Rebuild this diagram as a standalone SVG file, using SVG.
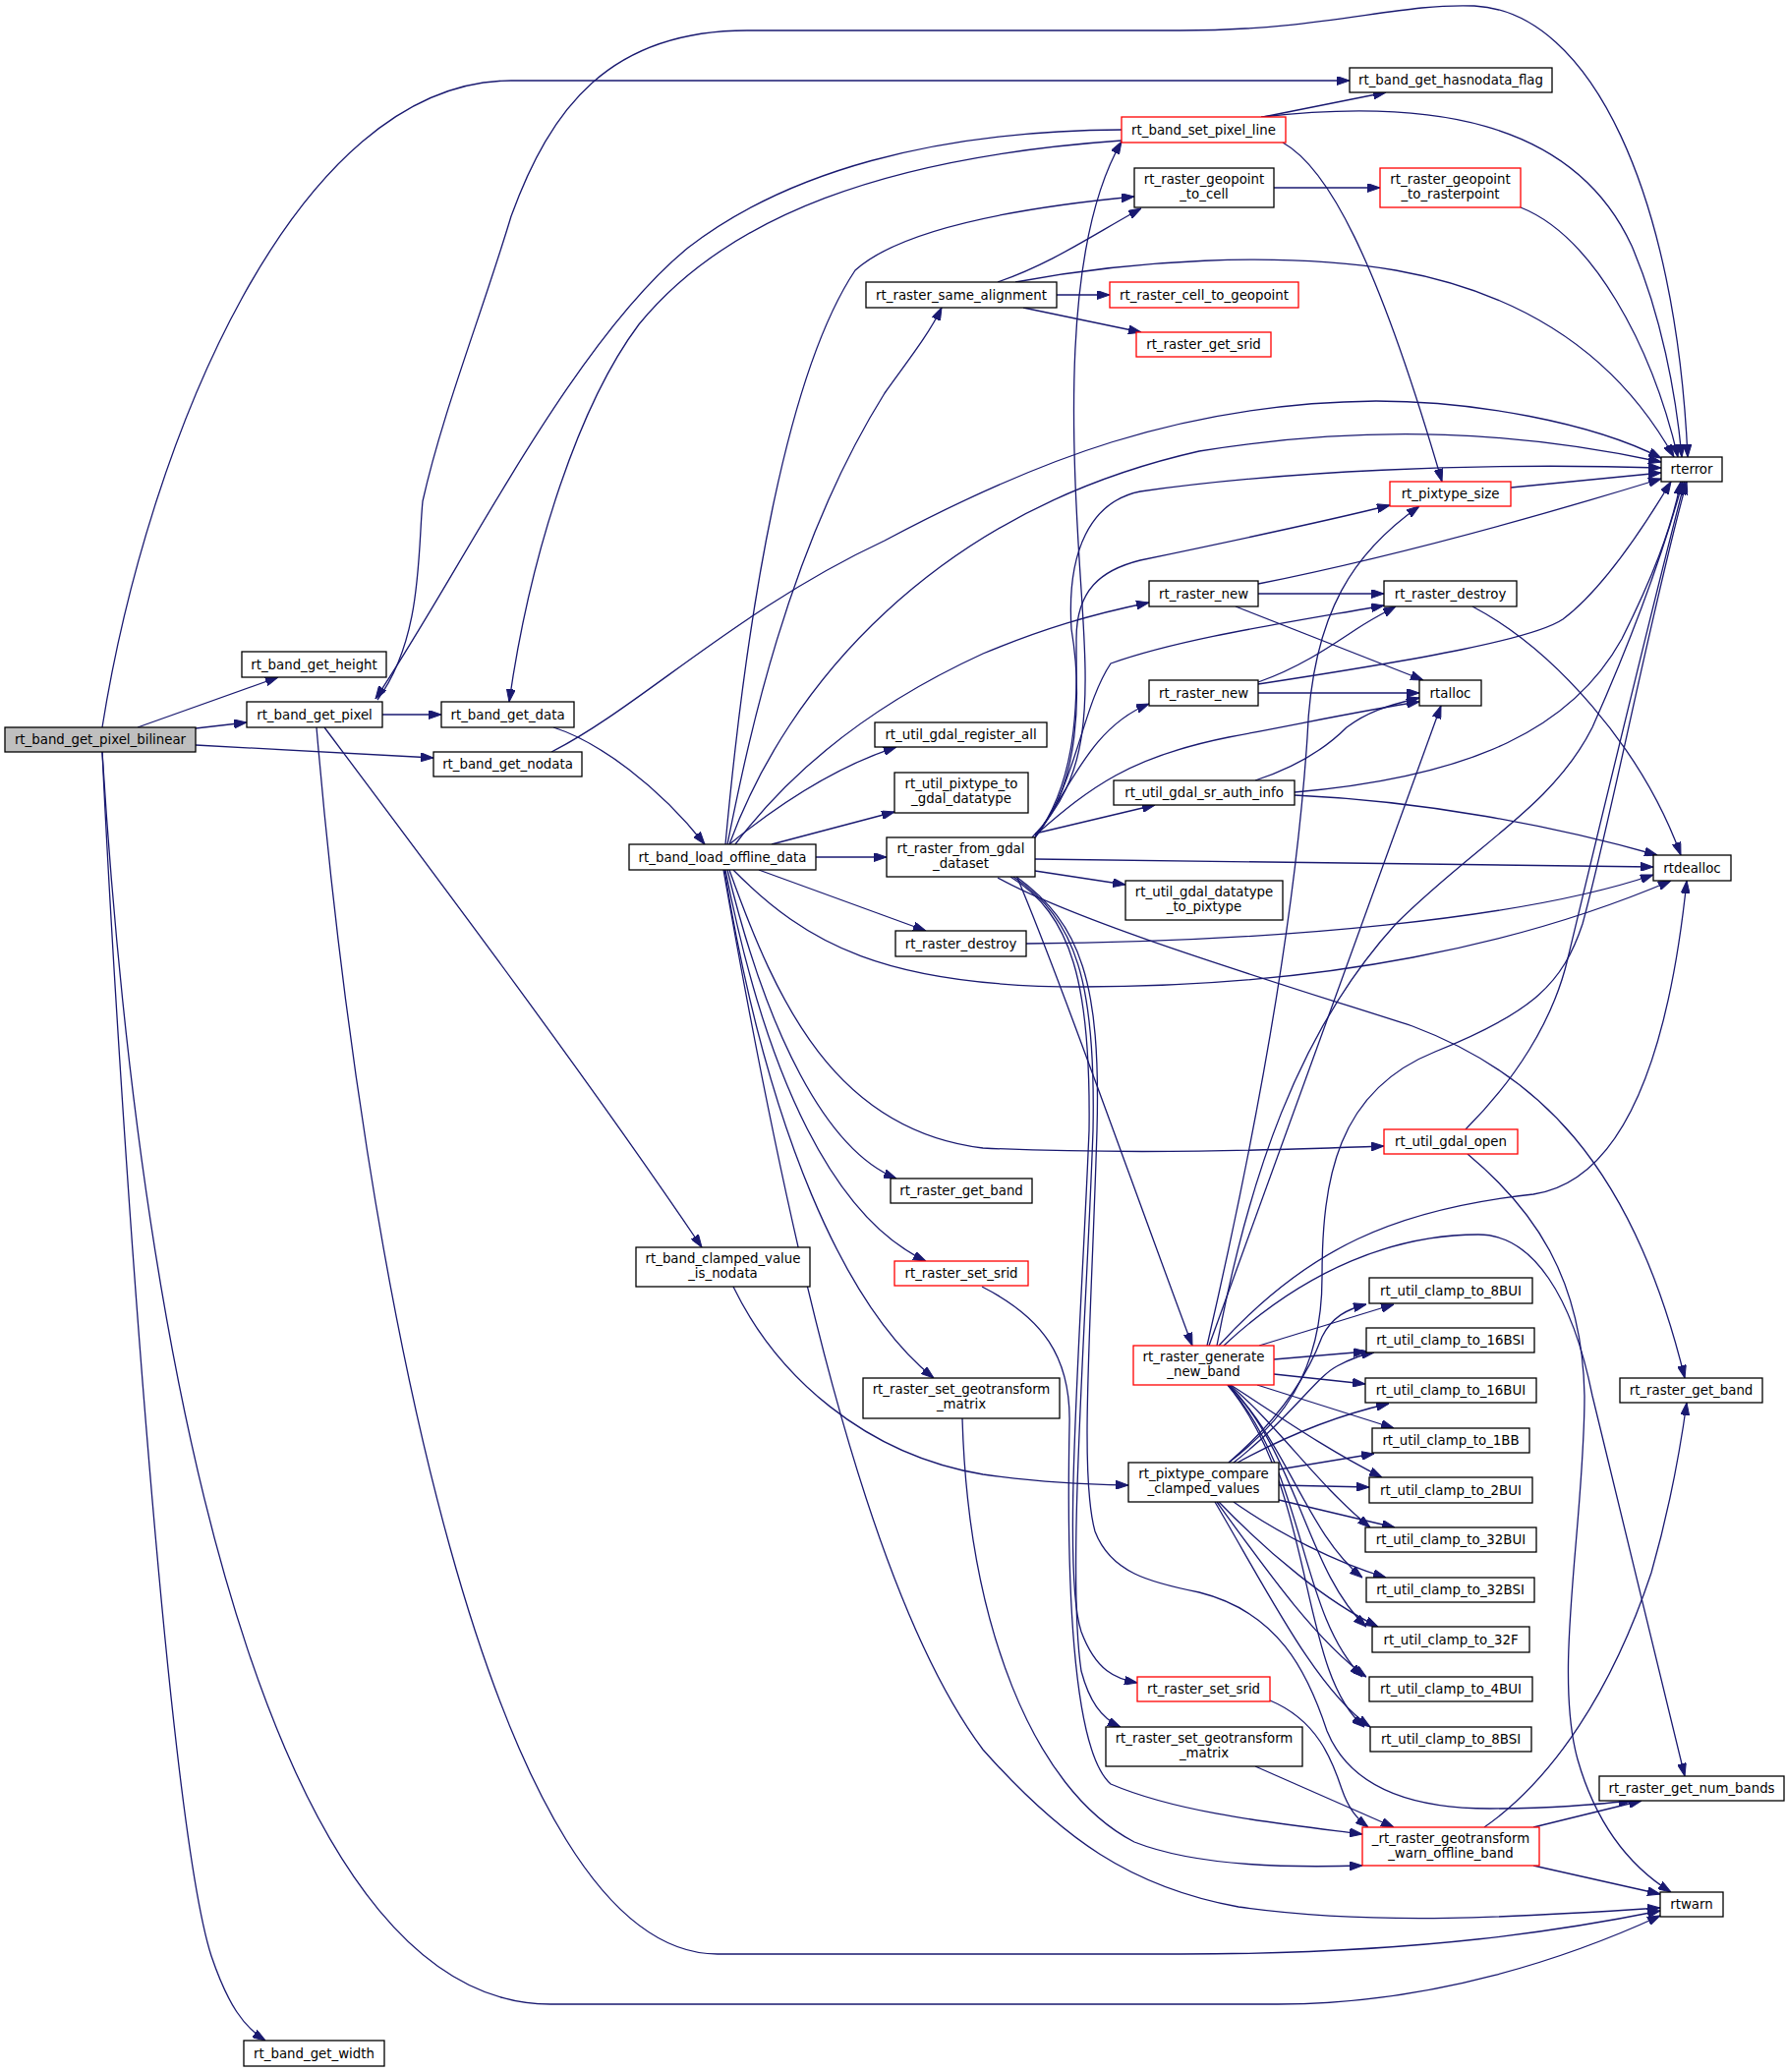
<svg xmlns="http://www.w3.org/2000/svg" width="1817" height="2108" viewBox="0 0 1817 2108">
<style>
.n rect{fill:#fff;stroke:#000;stroke-width:1.3}
.n.r rect{stroke:#ff0000}
.n.g rect{fill:#bfbfbf}
.e path{fill:none;stroke:#191970;stroke-width:1.3;marker-end:url(#a)}
text{font-family:"DejaVu Sans","Liberation Sans",sans-serif;font-size:13.33px;text-anchor:middle;fill:#000}
</style>
<defs>
<marker id="a" viewBox="0 0 13 9" refX="13" refY="4.5" markerWidth="13" markerHeight="9" markerUnits="userSpaceOnUse" orient="auto">
<path d="M0,0 L13,4.5 L0,9 Z" fill="#191970" stroke="#191970" stroke-width="1"/>
</marker>
</defs>
<rect x="0" y="0" width="1817" height="2108" fill="#fff"/>
<g id="edges" class="e">
<path d="M104,740 C150,450 300,82 520,82 L1373,82"/>
<path d="M140,740 L283,689"/>
<path d="M199,741 L251,735"/>
<path d="M199,758 L441,771"/>
<path d="M104,765 C120,1100 170,1850 215,1990 C232,2040 248,2062 270,2076"/>
<path d="M104,765 C150,1500 300,2039 560,2039 L1300,2039 C1460,2039 1600,1990 1689,1949"/>
<path d="M389,727 L449,727"/>
<path d="M330,740 C450,900 600,1100 714,1269"/>
<path d="M322,740 C370,1300 500,1988 730,1988 L1200,1988 C1450,1988 1600,1962 1689,1944"/>
<path d="M384,712 C430,650 425,560 430,510 C450,420 490,320 520,220 C560,110 620,31 760,31 L1200,31 C1350,31 1420,3 1500,6 C1620,12 1705,200 1717,465"/>
<path d="M1141,132 C950,133 800,175 700,252 C580,350 470,580 382,711"/>
<path d="M1141,143 C900,160 740,220 650,330 C590,410 540,560 518,714"/>
<path d="M1285,119 L1410,94"/>
<path d="M1283,119 C1450,100 1600,120 1660,250 C1690,320 1705,400 1711,465"/>
<path d="M1305,145 C1350,170 1400,260 1467,490"/>
<path d="M563,740 C610,755 670,800 717,859"/>
<path d="M561,765 C650,720 750,620 900,550 C1050,470 1200,410 1400,408 C1500,408 1620,430 1690,466"/>
<path d="M740,859 C760,760 800,560 900,400 C925,365 945,340 958,313"/>
<path d="M738,859 C760,620 800,380 870,275 C920,230 1050,210 1154,200"/>
<path d="M742,859 C800,700 950,520 1220,459 C1400,430 1550,440 1690,470"/>
<path d="M748,859 C800,790 880,720 1000,665 C1060,640 1110,625 1169,613"/>
<path d="M742,859 C790,820 850,780 912,760"/>
<path d="M785,859 L910,826"/>
<path d="M830,872 L902,872"/>
<path d="M772,885 L942,947"/>
<path d="M746,885 C820,960 900,1004 1100,1004 C1350,1004 1550,960 1700,896"/>
<path d="M742,885 C790,1020 850,1150 1000,1168 C1150,1175 1300,1170 1408,1166"/>
<path d="M740,885 C780,1050 840,1170 912,1199"/>
<path d="M738,885 C780,1100 850,1240 942,1283"/>
<path d="M737,885 C780,1150 860,1330 950,1402"/>
<path d="M736,885 C800,1250 880,1620 1000,1780 C1080,1870 1150,1920 1260,1940 C1400,1960 1550,1950 1689,1941"/>
<path d="M1015,287 C1070,268 1110,240 1161,212"/>
<path d="M1075,300 L1129,300"/>
<path d="M1041,313 L1161,338"/>
<path d="M1033,287 C1150,265 1300,255 1420,275 C1560,300 1650,370 1703,465"/>
<path d="M1296,191 L1404,191"/>
<path d="M1547,211 C1620,240 1680,350 1707,465"/>
<path d="M1537,496 L1690,481"/>
<path d="M1280,594 C1400,570 1550,530 1690,487"/>
<path d="M1280,604 L1408,604"/>
<path d="M1257,617 L1448,692"/>
<path d="M1498,617 C1580,660 1670,760 1710,870"/>
<path d="M1280,696 C1450,670 1560,650 1590,630 C1630,600 1670,540 1700,490"/>
<path d="M1280,694 C1320,680 1350,660 1380,640 C1395,630 1405,625 1420,617"/>
<path d="M1280,705 L1444,705"/>
<path d="M1277,794 C1320,780 1350,760 1370,740 C1390,725 1410,718 1444,710"/>
<path d="M1317,806 C1500,790 1600,740 1650,650 C1680,590 1700,540 1710,490"/>
<path d="M1317,809 C1450,815 1580,840 1686,870"/>
<path d="M1044,960 C1300,958 1550,935 1682,890"/>
<path d="M1491,1149 C1540,1100 1580,1040 1595,975 C1630,830 1680,620 1714,490"/>
<path d="M1493,1174 C1560,1230 1610,1300 1612,1420 C1612,1550 1580,1700 1605,1790 C1625,1860 1660,1900 1700,1925"/>
<path d="M746,1309 C790,1400 880,1480 1000,1500 C1060,1508 1100,1510 1148,1511"/>
<path d="M999,1309 C1060,1340 1090,1380 1088,1450 C1085,1600 1090,1780 1130,1815 C1200,1845 1300,1855 1386,1866"/>
<path d="M979,1443 C985,1650 1050,1820 1154,1874 C1220,1900 1320,1900 1386,1898"/>
<path d="M1292,1730 C1340,1750 1355,1790 1365,1820 C1372,1840 1380,1850 1392,1859"/>
<path d="M1277,1797 L1418,1859"/>
<path d="M1560,1859 L1670,1832"/>
<path d="M1560,1898 L1689,1927"/>
<path d="M1510,1859 C1580,1810 1640,1720 1680,1600 C1700,1530 1710,1470 1716,1427"/>
<path d="M1050,852 C1110,790 1108,720 1100,600 C1090,450 1080,250 1141,144"/>
<path d="M1053,850 C1100,800 1100,700 1090,640 C1085,560 1110,510 1160,500 C1300,480 1500,470 1690,476"/>
<path d="M1053,852 C1100,790 1095,700 1095,650 C1095,600 1120,580 1160,570 C1280,545 1350,530 1414,514"/>
<path d="M1053,852 C1095,800 1100,720 1130,675 C1200,650 1300,635 1408,616"/>
<path d="M1053,852 C1090,800 1110,740 1169,716"/>
<path d="M1053,850 C1110,800 1150,770 1250,750 C1330,735 1390,722 1444,714"/>
<path d="M1053,848 L1175,819"/>
<path d="M1053,874 L1682,882"/>
<path d="M1053,886 L1145,900"/>
<path d="M1015,893 C1100,940 1300,1000 1437,1044 C1560,1090 1660,1180 1714,1402"/>
<path d="M1035,893 C1080,1000 1150,1200 1213,1369"/>
<path d="M1028,892 C1090,930 1110,1000 1108,1150 C1100,1350 1080,1600 1100,1660 C1115,1700 1135,1708 1157,1712"/>
<path d="M1031,892 C1095,935 1115,1000 1112,1150 C1105,1350 1085,1600 1100,1700 C1108,1730 1120,1748 1140,1757"/>
<path d="M1034,892 C1100,940 1120,1000 1116,1150 C1110,1350 1098,1500 1114,1558 C1130,1600 1170,1610 1220,1620 C1300,1640 1330,1700 1350,1761 C1370,1810 1420,1840 1516,1840 C1580,1840 1620,1836 1660,1832"/>
<path d="M1228,1369 C1290,1100 1320,900 1330,750 C1335,620 1380,560 1444,515"/>
<path d="M1230,1369 L1466,718"/>
<path d="M1238,1369 C1270,1200 1320,1050 1420,940 C1500,860 1580,820 1620,740 C1660,650 1690,570 1712,490"/>
<path d="M1240,1369 C1330,1270 1420,1230 1560,1215 C1660,1200 1700,1050 1716,896"/>
<path d="M1245,1369 C1330,1290 1420,1256 1504,1256 C1560,1256 1600,1320 1620,1420 L1714,1807"/>
<path d="M1281,1369 L1418,1327"/>
<path d="M1296,1383 L1390,1375"/>
<path d="M1296,1398 L1389,1408"/>
<path d="M1279,1409 L1418,1453"/>
<path d="M1252,1409 C1300,1440 1350,1475 1406,1503"/>
<path d="M1251,1409 C1300,1450 1340,1510 1394,1554"/>
<path d="M1250,1409 C1310,1470 1330,1560 1386,1605"/>
<path d="M1250,1409 C1320,1480 1330,1600 1390,1655"/>
<path d="M1249,1409 C1330,1500 1320,1640 1386,1706"/>
<path d="M1249,1409 C1340,1520 1320,1700 1388,1757"/>
<path d="M1250,1488 C1300,1445 1330,1400 1345,1360 C1355,1340 1370,1332 1390,1327"/>
<path d="M1255,1488 C1310,1445 1340,1400 1360,1390 C1375,1382 1385,1378 1398,1376"/>
<path d="M1259,1488 C1310,1460 1360,1440 1413,1428"/>
<path d="M1301,1495 L1398,1479"/>
<path d="M1301,1511 L1393,1513"/>
<path d="M1301,1526 L1419,1554"/>
<path d="M1255,1528 C1300,1560 1360,1590 1410,1605"/>
<path d="M1240,1528 C1290,1580 1350,1630 1402,1655"/>
<path d="M1238,1528 C1290,1600 1340,1670 1390,1706"/>
<path d="M1236,1528 C1290,1620 1340,1720 1394,1757"/>
<path d="M1250,1488 C1300,1450 1345,1400 1345,1300 C1345,1200 1360,1110 1460,1070 C1560,1030 1590,1000 1610,940 C1640,830 1680,620 1716,490"/>
</g>
<g id="n1" class="n g"><rect x="5" y="740" width="194" height="25"/><text x="102" y="757">rt_band_get_pixel_bilinear</text></g>
<g id="n2" class="n"><rect x="246" y="663" width="147" height="26"/><text x="319.5" y="681">rt_band_get_height</text></g>
<g id="n3" class="n"><rect x="251" y="714" width="138" height="26"/><text x="320" y="732">rt_band_get_pixel</text></g>
<g id="n4" class="n"><rect x="248" y="2076" width="143" height="26"/><text x="319.5" y="2094">rt_band_get_width</text></g>
<g id="n5" class="n"><rect x="449" y="714" width="135" height="26"/><text x="516.5" y="732">rt_band_get_data</text></g>
<g id="n6" class="n"><rect x="441" y="765" width="151" height="25"/><text x="516.5" y="782">rt_band_get_nodata</text></g>
<g id="n7" class="n"><rect x="647" y="1269" width="177" height="40"/><text x="735.5" y="1285">rt_band_clamped_value</text><text x="735.5" y="1300">_is_nodata</text></g>
<g id="n8" class="n"><rect x="640" y="859" width="190" height="26"/><text x="735" y="877">rt_band_load_offline_data</text></g>
<g id="n9" class="n"><rect x="881" y="287" width="194" height="26"/><text x="978" y="305">rt_raster_same_alignment</text></g>
<g id="n10" class="n r"><rect x="1141" y="119" width="167" height="26"/><text x="1224.5" y="137">rt_band_set_pixel_line</text></g>
<g id="n11" class="n"><rect x="1154" y="171" width="142" height="40"/><text x="1225" y="187">rt_raster_geopoint</text><text x="1225" y="202">_to_cell</text></g>
<g id="n12" class="n r"><rect x="1404" y="171" width="143" height="40"/><text x="1475.5" y="187">rt_raster_geopoint</text><text x="1475.5" y="202">_to_rasterpoint</text></g>
<g id="n13" class="n"><rect x="1373" y="69" width="206" height="25"/><text x="1476" y="86">rt_band_get_hasnodata_flag</text></g>
<g id="n14" class="n r"><rect x="1129" y="287" width="192" height="26"/><text x="1225" y="305">rt_raster_cell_to_geopoint</text></g>
<g id="n15" class="n r"><rect x="1156" y="338" width="137" height="25"/><text x="1224.5" y="355">rt_raster_get_srid</text></g>
<g id="n16" class="n"><rect x="1690" y="465" width="62" height="25"/><text x="1721" y="482">rterror</text></g>
<g id="n17" class="n r"><rect x="1414" y="490" width="123" height="25"/><text x="1475.5" y="507">rt_pixtype_size</text></g>
<g id="n18" class="n"><rect x="1169" y="591" width="111" height="26"/><text x="1224.5" y="609">rt_raster_new</text></g>
<g id="n19" class="n"><rect x="1408" y="591" width="135" height="26"/><text x="1475.5" y="609">rt_raster_destroy</text></g>
<g id="n20" class="n"><rect x="1169" y="692" width="111" height="26"/><text x="1224.5" y="710">rt_raster_new</text></g>
<g id="n21" class="n"><rect x="1444" y="692" width="63" height="26"/><text x="1475.5" y="710">rtalloc</text></g>
<g id="n22" class="n"><rect x="890" y="735" width="175" height="25"/><text x="977.5" y="752">rt_util_gdal_register_all</text></g>
<g id="n23" class="n"><rect x="910" y="786" width="136" height="41"/><text x="978" y="802">rt_util_pixtype_to</text><text x="978" y="817">_gdal_datatype</text></g>
<g id="n24" class="n"><rect x="902" y="852" width="151" height="40"/><text x="977.5" y="868">rt_raster_from_gdal</text><text x="977.5" y="883">_dataset</text></g>
<g id="n25" class="n"><rect x="1133" y="794" width="184" height="25"/><text x="1225" y="811">rt_util_gdal_sr_auth_info</text></g>
<g id="n26" class="n"><rect x="1145" y="896" width="160" height="40"/><text x="1225" y="912">rt_util_gdal_datatype</text><text x="1225" y="927">_to_pixtype</text></g>
<g id="n27" class="n"><rect x="1682" y="870" width="79" height="26"/><text x="1721.5" y="888">rtdealloc</text></g>
<g id="n28" class="n"><rect x="911" y="947" width="133" height="26"/><text x="977.5" y="965">rt_raster_destroy</text></g>
<g id="n29" class="n r"><rect x="1408" y="1149" width="136" height="25"/><text x="1476" y="1166">rt_util_gdal_open</text></g>
<g id="n30" class="n"><rect x="906" y="1199" width="144" height="25"/><text x="978" y="1216">rt_raster_get_band</text></g>
<g id="n31" class="n r"><rect x="910" y="1283" width="136" height="25"/><text x="978" y="1300">rt_raster_set_srid</text></g>
<g id="n32" class="n r"><rect x="1153" y="1369" width="143" height="40"/><text x="1224.5" y="1385">rt_raster_generate</text><text x="1224.5" y="1400">_new_band</text></g>
<g id="n33" class="n"><rect x="1393" y="1300" width="166" height="26"/><text x="1476" y="1318">rt_util_clamp_to_8BUI</text></g>
<g id="n34" class="n"><rect x="1390" y="1351" width="171" height="25"/><text x="1475.5" y="1368">rt_util_clamp_to_16BSI</text></g>
<g id="n35" class="n"><rect x="1389" y="1402" width="174" height="25"/><text x="1476" y="1419">rt_util_clamp_to_16BUI</text></g>
<g id="n36" class="n"><rect x="1648" y="1402" width="145" height="25"/><text x="1720.5" y="1419">rt_raster_get_band</text></g>
<g id="n37" class="n"><rect x="1396" y="1453" width="160" height="25"/><text x="1476" y="1470">rt_util_clamp_to_1BB</text></g>
<g id="n38" class="n"><rect x="1393" y="1503" width="166" height="26"/><text x="1476" y="1521">rt_util_clamp_to_2BUI</text></g>
<g id="n39" class="n"><rect x="1389" y="1554" width="174" height="25"/><text x="1476" y="1571">rt_util_clamp_to_32BUI</text></g>
<g id="n40" class="n"><rect x="1390" y="1605" width="171" height="25"/><text x="1475.5" y="1622">rt_util_clamp_to_32BSI</text></g>
<g id="n41" class="n"><rect x="1396" y="1655" width="160" height="26"/><text x="1476" y="1673">rt_util_clamp_to_32F</text></g>
<g id="n42" class="n"><rect x="1393" y="1706" width="166" height="25"/><text x="1476" y="1723">rt_util_clamp_to_4BUI</text></g>
<g id="n43" class="n"><rect x="1394" y="1757" width="164" height="25"/><text x="1476" y="1774">rt_util_clamp_to_8BSI</text></g>
<g id="n44" class="n"><rect x="878" y="1402" width="200" height="41"/><text x="978" y="1418">rt_raster_set_geotransform</text><text x="978" y="1433">_matrix</text></g>
<g id="n45" class="n"><rect x="1148" y="1488" width="153" height="40"/><text x="1224.5" y="1504">rt_pixtype_compare</text><text x="1224.5" y="1519">_clamped_values</text></g>
<g id="n46" class="n r"><rect x="1157" y="1706" width="135" height="25"/><text x="1224.5" y="1723">rt_raster_set_srid</text></g>
<g id="n47" class="n"><rect x="1125" y="1757" width="200" height="40"/><text x="1225" y="1773">rt_raster_set_geotransform</text><text x="1225" y="1788">_matrix</text></g>
<g id="n48" class="n"><rect x="1627" y="1807" width="188" height="25"/><text x="1721" y="1824">rt_raster_get_num_bands</text></g>
<g id="n49" class="n r"><rect x="1386" y="1859" width="180" height="39"/><text x="1476" y="1875">_rt_raster_geotransform</text><text x="1476" y="1890">_warn_offline_band</text></g>
<g id="n50" class="n"><rect x="1689" y="1925" width="64" height="25"/><text x="1721" y="1942">rtwarn</text></g>
</svg>
